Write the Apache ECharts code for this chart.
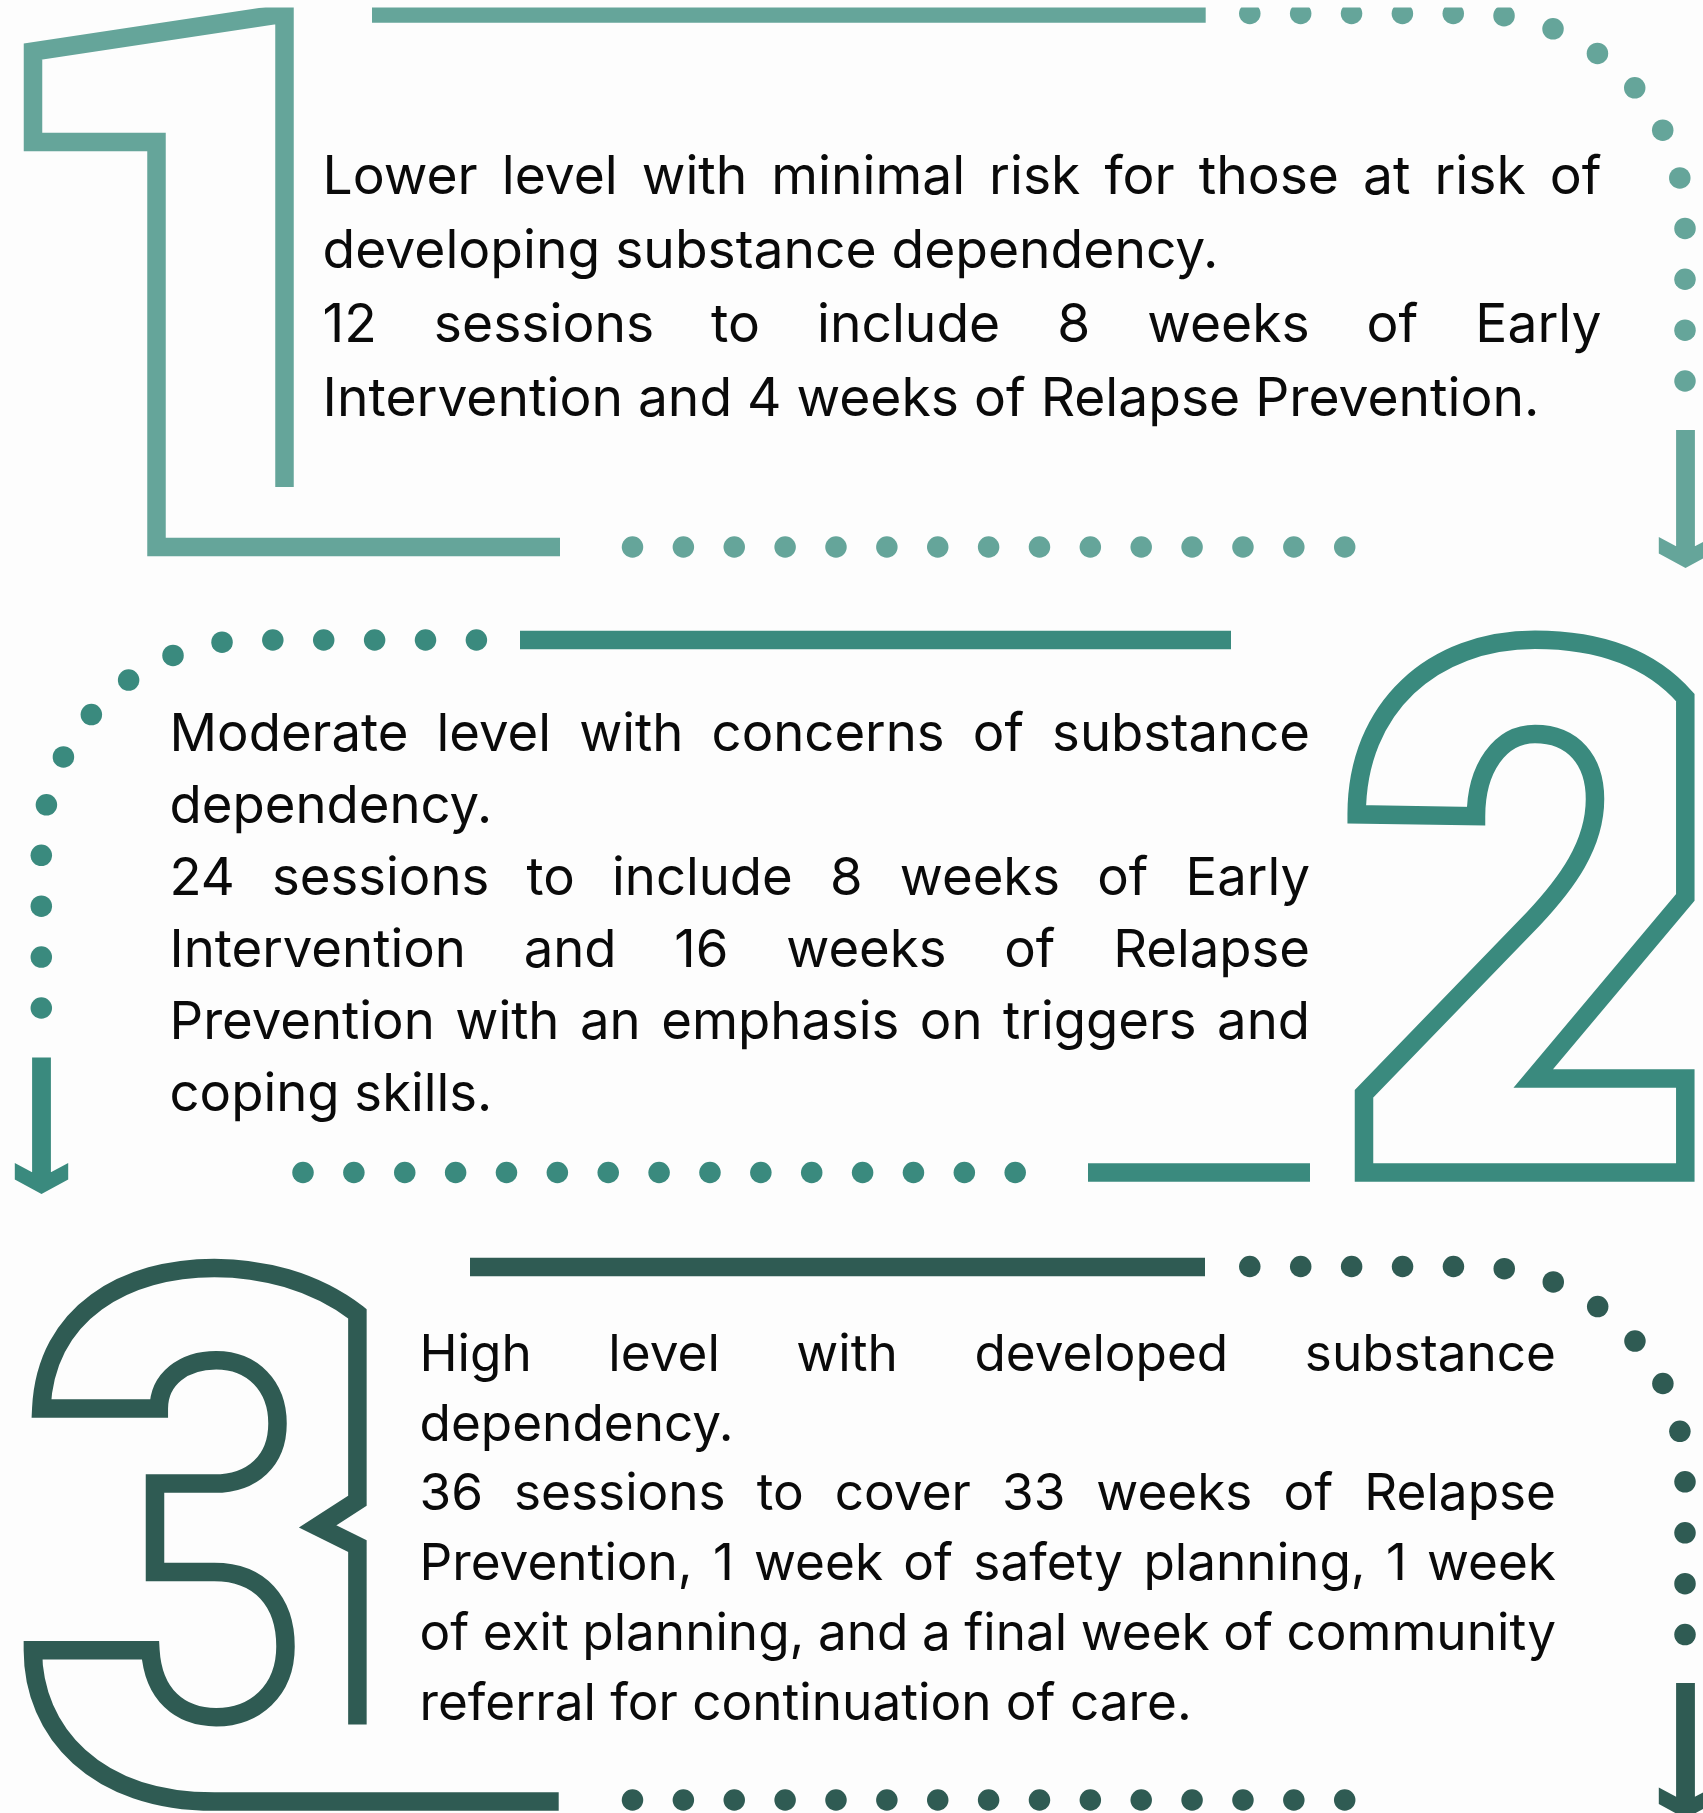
<!DOCTYPE html>
<html><head><meta charset="utf-8">
<script src="https://cdn.jsdelivr.net/npm/echarts@6/dist/echarts.min.js"></script>
<style>html,body{margin:0;padding:0;background:#FDFDFD;}#c{width:1703px;height:1813px;}</style>
</head><body><div id="c"></div>
<script>
// ---------- content ----------
const levelColors = ['#65A59A', '#3A8A7E', '#2F5B53'];
const level1Lines = [
  'Lower level with minimal risk for those at risk of',
  'developing substance dependency.',
  '12 sessions to include 8 weeks of Early',
  'Intervention and 4 weeks of Relapse Prevention.'
];
const level1Justify = [true, false, true, false];
const level2Lines = [
  'Moderate level with concerns of substance',
  'dependency.',
  '24 sessions to include 8 weeks of Early',
  'Intervention and 16 weeks of Relapse',
  'Prevention with an emphasis on triggers and',
  'coping skills.'
];
const level2Justify = [true, false, true, true, true, false];
const level3Lines = [
  'High level with developed substance',
  'dependency.',
  '36 sessions to cover 33 weeks of Relapse',
  'Prevention, 1 week of safety planning, 1 week',
  'of exit planning, and a final week of community',
  'referral for continuation of care.'
];
const level3Justify = [true, false, true, true, true, false];
const levelNumbers = ['1', '2', '3'];
const cornerDotCounts = [15, 15, 15];
const rowDotCounts = [15, 15, 15];

// ---------- layout ----------
const W = 1703, H = 1813;
const BG = '#FDFDFD';
const FONT = 'Inter';
const ctx = document.createElement('canvas').getContext('2d');
function measure(t, fs) { ctx.font = fs + 'px ' + FONT; return ctx.measureText(t).width; }

const blocks = [
  {lines: level1Lines, just: level1Justify, left: 322.6, right: 1601.5, base: 194.3, gap: 74.1, calib: [3, 1217]},
  {lines: level2Lines, just: level2Justify, left: 169.5, right: 1310, base: 751.5, gap: 71.95, calib: [1, 322.6]},
  {lines: level3Lines, just: level3Justify, left: 419.5, right: 1556, base: 1371.3, gap: 69.75, calib: [5, 772.5]}
];

const graphics = [];
blocks.forEach(b => {
  const fs = 100 * b.calib[1] / measure(b.lines[b.calib[0]], 100);
  const off = 0.31 * fs;
  b.lines.forEach((line, li) => {
    const y = b.base + li * b.gap - off;
    if (!b.just[li]) {
      graphics.push({type: 'text', x: b.left, y: y, silent: true, z: 10,
        style: {text: line, fontSize: fs, fontFamily: FONT, fill: '#0a0a0a', verticalAlign: 'middle', align: 'left'}});
    } else {
      const words = line.split(' ');
      const ws = words.map(w => measure(w, fs));
      const sum = ws.reduce((a, c) => a + c, 0);
      const g = (b.right - b.left - sum) / (words.length - 1);
      let x = b.left;
      words.forEach((w, i) => {
        graphics.push({type: 'text', x: x, y: y, silent: true, z: 10,
          style: {text: w, fontSize: fs, fontFamily: FONT, fill: '#0a0a0a', verticalAlign: 'middle', align: 'left'}});
        x += ws[i] + g;
      });
    }
  });
});

// numerals (outlined glyph shapes)
const glyphPaths = [
  'M284.5,487 L284.5,13.5 L33,51.5 L33,142 L156.5,142 L156.5,547 L560,547',
  'M1364,1172.5 L1685.3,1172.5 L1685.3,1078.4 L1533.3,1078.4 L1685.3,897.4 L1685.3,697.6 ' +
  'C1650,657.4 1600,639.8 1535,639.8 C1433.3,639.8 1356.7,707.2 1356.7,814.3 L1476,816.2 ' +
  'C1476,768.4 1500,734 1535,734 C1573.3,734 1595,760.7 1595,799 C1595,845 1566.7,883.2 1533.3,918.8 ' +
  'L1364,1093.7 Z',
  'M357.4,1724.6 L357.4,1546.1 L317.6,1526.4 L357.4,1500.7 L357.4,1313.7 ' +
  'C313.8,1280.2 260.2,1267.9 214.3,1267.9 C126.3,1267.9 45.9,1311.8 41.3,1408.5 L158.8,1408.5 ' +
  'C158.8,1378.8 183.7,1360.2 216.2,1360.2 C252.6,1360.2 277.5,1386.2 277.5,1423.4 ' +
  'C277.5,1460.6 252.6,1483.6 214.3,1483.6 L155,1483.6 L155,1572.1 L214.3,1572.1 ' +
  'C260.2,1572.1 285.5,1601.9 285.5,1646.5 C285.5,1691.1 254.5,1717.2 216.2,1717.2 ' +
  'C179.9,1717.2 153.1,1694.9 150.4,1650.2 L32.9,1650.2 C32.9,1732 95.7,1801.6 214.3,1801.6 L558.7,1801.6'
];

// straight bars
const bars = [
  [372, 1205.7, 13.6, 0], [520, 1231, 640, 1], [1088, 1310, 1172.5, 1], [470, 1205, 1267, 2]
];
bars.forEach(([x1, x2, y, c]) => {
  graphics.push({type: 'line', silent: true, z: 5, shape: {x1: x1, y1: y, x2: x2, y2: y},
    style: {stroke: levelColors[c], lineWidth: 18.5, lineCap: 'butt'}});
});

// arrows
function arrow(cx, top, ty, color) {
  const pts = [[cx - 9.4, top], [cx + 9.4, top], [cx + 9.4, ty - 21.8], [cx + 26.7, ty - 31], [cx + 26.7, ty - 14.4],
    [cx, ty], [cx - 26.7, ty - 14.4], [cx - 26.7, ty - 31], [cx - 9.4, ty - 21.8]];
  graphics.push({type: 'polygon', silent: true, z: 5, shape: {points: pts}, style: {fill: color}});
}
arrow(1685.5, 430, 568, levelColors[0]);
arrow(41.5, 1057.5, 1194, levelColors[1]);
arrow(1685.5, 1683, 1818.5, levelColors[2]);

// top crop edge of the original artwork
graphics.push({type: 'rect', silent: true, z: 100, shape: {x: 0, y: 0, width: W, height: 7.4}, style: {fill: BG}});

// dotted paths
function cornerDots(startX, rowY, dir, R, colX, endY, n) {
  const cornerX = colX - dir * R, cy = rowY + R;
  const l1 = Math.abs(cornerX - startX), l2 = Math.PI / 2 * R, l3 = endY - cy;
  const L = l1 + l2 + l3, step = L / (n - 1), pts = [];
  for (let i = 0; i < n; i++) {
    const s = i * step;
    if (s <= l1) pts.push([startX + dir * s, rowY]);
    else if (s <= l1 + l2) {
      const a = (s - l1) / R;
      pts.push([cornerX + dir * R * Math.sin(a), cy - R * Math.cos(a)]);
    } else pts.push([colX, cy + (s - l1 - l2)]);
  }
  return pts;
}
function rowDots(x1, x2, y, n) {
  const pts = [];
  for (let i = 0; i < n; i++) pts.push([x1 + (x2 - x1) * i / (n - 1), y]);
  return pts;
}
const dotSets = [
  cornerDots(1249.8, 13.5, 1, 211, 1685, 381, cornerDotCounts[0]).concat(rowDots(632.5, 1344.7, 547, rowDotCounts[0])),
  cornerDots(476.4, 640, -1, 211, 41.3, 1008, cornerDotCounts[1]).concat(rowDots(303, 1015.2, 1172.5, rowDotCounts[1])),
  cornerDots(1249.8, 1266.5, 1, 211, 1685, 1634.6, cornerDotCounts[2]).concat(rowDots(632.5, 1344.7, 1800, rowDotCounts[2]))
];

const chart = echarts.init(document.getElementById('c'), null, {renderer: 'canvas'});
chart.setOption({
  backgroundColor: BG,
  animation: false,
  grid: {left: 0, right: 0, top: 0, bottom: 0, containLabel: false},
  xAxis: {type: 'value', min: 0, max: W, show: false},
  yAxis: {type: 'value', min: 0, max: H, inverse: true, show: false},
  series: dotSets.map((pts, i) => ({
    type: 'scatter', data: pts, symbol: 'circle', symbolSize: 21.5, silent: true, z: 3,
    itemStyle: {color: levelColors[i], opacity: 1}
  })).concat([{
    type: 'custom', silent: true, z: 4,
    data: levelNumbers.map((n, i) => [i]),
    renderItem: function (params, api) {
      const i = api.value(0);
      return {type: 'path', shape: {pathData: glyphPaths[i]},
        style: {fill: 'none', stroke: levelColors[i], lineWidth: 18.5, lineJoin: 'miter', miterLimit: 10, lineCap: 'butt'}};
    }
  }]),
  graphic: {elements: graphics}
});
</script></body></html>
